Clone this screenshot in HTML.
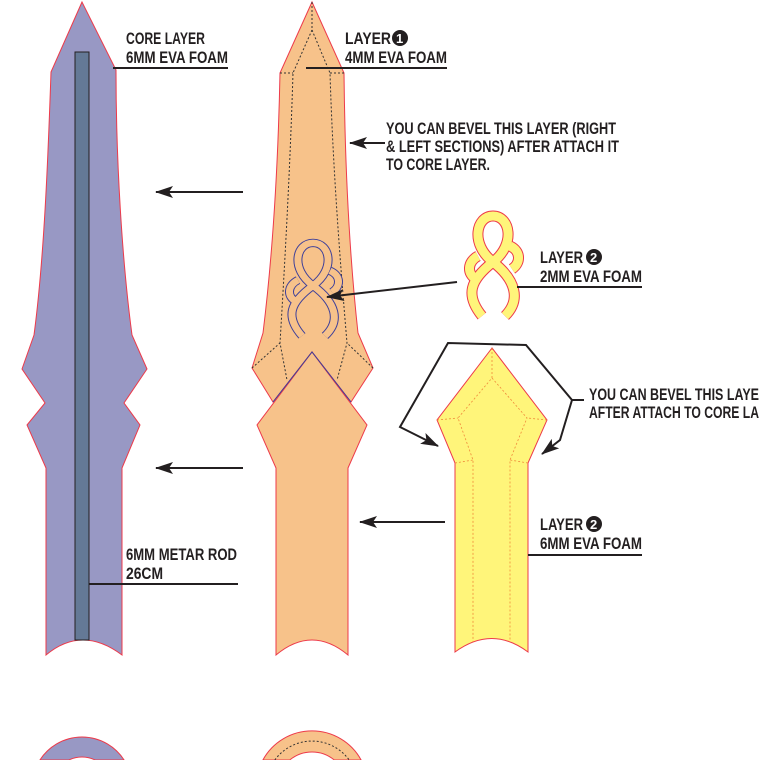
<!DOCTYPE html>
<html><head><style>
html,body{margin:0;padding:0;background:#fff;width:760px;height:760px;overflow:hidden;}
svg{display:block}
text{font-family:"Liberation Sans Narrow","Liberation Sans",sans-serif;font-weight:bold;font-size:17px;fill:#231f20;}
</style></head><body>
<svg width="760" height="760" viewBox="0 0 760 760" xmlns="http://www.w3.org/2000/svg">
<defs>
<marker id="ah2" viewBox="0 0 18 12" markerWidth="18" markerHeight="12" refX="17" refY="6" orient="auto-start-reverse" markerUnits="userSpaceOnUse">
<path d="M0,0 L18,6 L0,12 L4,6 Z" fill="#231f20"/>
</marker>
</defs>
<!-- Core layer -->
<path d="M82,2 L51,72 C48,160 44,260 34,335 L22,369 L45,403 L27,425 L46,468 L46,655 Q82,625 122,655 L122,468 L140,425 L124,403 L147,369 L132,335 C122,260 116,160 116,70 Z" fill="#9898c4" stroke="#ed3a4a" stroke-width="1"/>
<rect x="75" y="52" width="14" height="588" fill="#647996" stroke="#231f20" stroke-width="1"/>

<!-- Layer 1 upper -->
<path d="M312,2 L280,73 C278,170 272,260 263,333 L252,368 L273,402 L312,352 L351,402 L373,368 L358,333 C350,260 345,170 344,73 Z" fill="#f7c28a" stroke="#ed3a4a" stroke-width="1"/>
<g fill="none" stroke="#333" stroke-width="1" stroke-dasharray="2,2">
<path d="M312,30 L293,73 C290,170 285,260 280,343 L287,380"/>
<path d="M312,30 L330,73 C333,170 340,260 347,343 L337,380"/>
<path d="M312,2 L312,30"/>
<path d="M280,73 L293,73 M330,73 L344,73 M252,368 L280,343 M373,368 L347,343"/>
</g>
<!-- knot middle -->
<g transform="translate(-180,42) scale(1,0.93)" fill="none">
<g stroke="#3d3f9a" stroke-width="9"><path d="M482,316 C465,295 470,280 493,262 C516,244 510,216 493,216 C476,216 470,244 493,262 C516,280 521,300 505,316"/><path d="M478,256 C467,262 467,274 476,279"/><path d="M510,246 C521,251 521,263 512,269"/></g>
<g stroke="#f7c28a" stroke-width="7"><path d="M482,316 C465,295 470,280 493,262 C516,244 510,216 493,216 C476,216 470,244 493,262 C516,280 521,300 505,316"/><path d="M478,256 C467,262 467,274 476,279"/><path d="M510,246 C521,251 521,263 512,269"/></g>
</g>
<!-- Layer 1 lower -->
<path d="M312,352 L257,425 L276,468 L276,655 Q312,625 348,655 L348,468 L367,425 Z" fill="#f7c28a" stroke="#ed3a4a" stroke-width="1"/>
<path d="M273,402 L312,352 L351,402" fill="none" stroke="#3d3f9a" stroke-width="1"/>

<!-- yellow knot -->
<g fill="none">
<g stroke="#ed3a4a" stroke-width="11"><path d="M482,316 C465,295 470,280 493,262 C516,244 510,216 493,216 C476,216 470,244 493,262 C516,280 521,300 505,316"/><path d="M478,256 C467,262 467,274 476,279"/><path d="M510,246 C521,251 521,263 512,269"/></g>
<g stroke="#fff57a" stroke-width="9"><path d="M482,316 C465,295 470,280 493,262 C516,244 510,216 493,216 C476,216 470,244 493,262 C516,280 521,300 505,316"/><path d="M478,256 C467,262 467,274 476,279"/><path d="M510,246 C521,251 521,263 512,269"/></g>
</g>

<!-- yellow piece -->
<path d="M492,348 L437,420 L455,463 L455,652 Q492,625 528,652 L528,463 L547,420 Z" fill="#fff57a" stroke="#ed3a4a" stroke-width="1"/>
<g fill="none" stroke="#f08a3a" stroke-width="0.8" stroke-dasharray="2,2">
<path d="M492,348 L492,378 L458,418 L473,460 L473,642"/>
<path d="M492,378 L527,418 L510,460 L510,642"/>
<path d="M437,420 L458,418 M547,420 L527,418 M455,463 L473,460 M528,463 L510,460"/>
</g>

<!-- brackets -->
<path d="M438,446 L400,427 L448,343 L526,345 L572,400 L584,400" fill="none" stroke="#231f20" stroke-width="2" marker-start="url(#ah2)"/>
<path d="M572,400 L560,440 L542,454" fill="none" stroke="#231f20" stroke-width="2" marker-end="url(#ah2)"/>

<!-- arrows -->
<g stroke="#231f20" stroke-width="2" fill="none">
<line x1="243" y1="192" x2="156" y2="192" marker-end="url(#ah2)"/>
<line x1="243" y1="468" x2="156" y2="468" marker-end="url(#ah2)"/>
<line x1="385" y1="143" x2="350" y2="143" marker-end="url(#ah2)"/>
<line x1="457" y1="282" x2="327" y2="297" marker-end="url(#ah2)"/>
<line x1="445" y1="522" x2="360" y2="522" marker-end="url(#ah2)"/>
<line x1="113" y1="68" x2="228" y2="68"/>
<line x1="306" y1="68" x2="447" y2="68"/>
<line x1="517" y1="287" x2="642" y2="287"/>
<line x1="528" y1="555" x2="642" y2="555"/>
<line x1="89" y1="584" x2="238" y2="584"/>
</g>

<!-- texts -->
<g>
<text x="126" y="44" textLength="79" lengthAdjust="spacingAndGlyphs">CORE LAYER</text>
<text x="126" y="63" textLength="102" lengthAdjust="spacingAndGlyphs">6MM EVA FOAM</text>
<text x="345" y="44" textLength="46" lengthAdjust="spacingAndGlyphs">LAYER</text><circle cx="400" cy="38" r="8" fill="#231f20"/><text x="396" y="43" style="fill:#fff;font-size:13px">1</text>
<text x="345" y="63" textLength="102" lengthAdjust="spacingAndGlyphs">4MM EVA FOAM</text>
<text x="386" y="134" textLength="230" lengthAdjust="spacingAndGlyphs">YOU CAN BEVEL THIS LAYER (RIGHT</text>
<text x="386" y="152" textLength="233" lengthAdjust="spacingAndGlyphs">&amp; LEFT SECTIONS) AFTER ATTACH IT</text>
<text x="386" y="170" textLength="104" lengthAdjust="spacingAndGlyphs">TO CORE LAYER.</text>
<text x="540" y="263" textLength="43" lengthAdjust="spacingAndGlyphs">LAYER</text><circle cx="594" cy="257" r="8" fill="#231f20"/><text x="590" y="262" style="fill:#fff;font-size:13px">2</text>
<text x="540" y="282" textLength="102" lengthAdjust="spacingAndGlyphs">2MM EVA FOAM</text>
<text x="589" y="400" textLength="170" lengthAdjust="spacingAndGlyphs">YOU CAN BEVEL THIS LAYE</text>
<text x="589" y="418" textLength="170" lengthAdjust="spacingAndGlyphs">AFTER ATTACH TO CORE LA</text>
<text x="540" y="530" textLength="43" lengthAdjust="spacingAndGlyphs">LAYER</text><circle cx="594" cy="524" r="8" fill="#231f20"/><text x="590" y="529" style="fill:#fff;font-size:13px">2</text>
<text x="540" y="549" textLength="102" lengthAdjust="spacingAndGlyphs">6MM EVA FOAM</text>
<text x="126" y="560" textLength="111" lengthAdjust="spacingAndGlyphs">6MM METAR ROD</text>
<text x="126" y="579" textLength="37" lengthAdjust="spacingAndGlyphs">26CM</text>
</g>

<!-- bottom rings (cut at frame edge) -->
<path d="M39.9,760 A50,50 0 0,1 124.1,760 L95.1,760 A30,30 0 0,0 68.9,760 Z" fill="#9898c4" stroke="#ed3a4a" stroke-width="1"/>
<path d="M262.9,760 A56,56 0 0,1 361.1,760 L334.3,760 A35,35 0 0,0 289.7,760 Z" fill="#f7c28a" stroke="#ed3a4a" stroke-width="1"/>
<path d="M274.8,760 A46,46 0 0,1 349.2,760" fill="none" stroke="#333" stroke-width="1" stroke-dasharray="2,2"/>
</svg>
</body></html>
